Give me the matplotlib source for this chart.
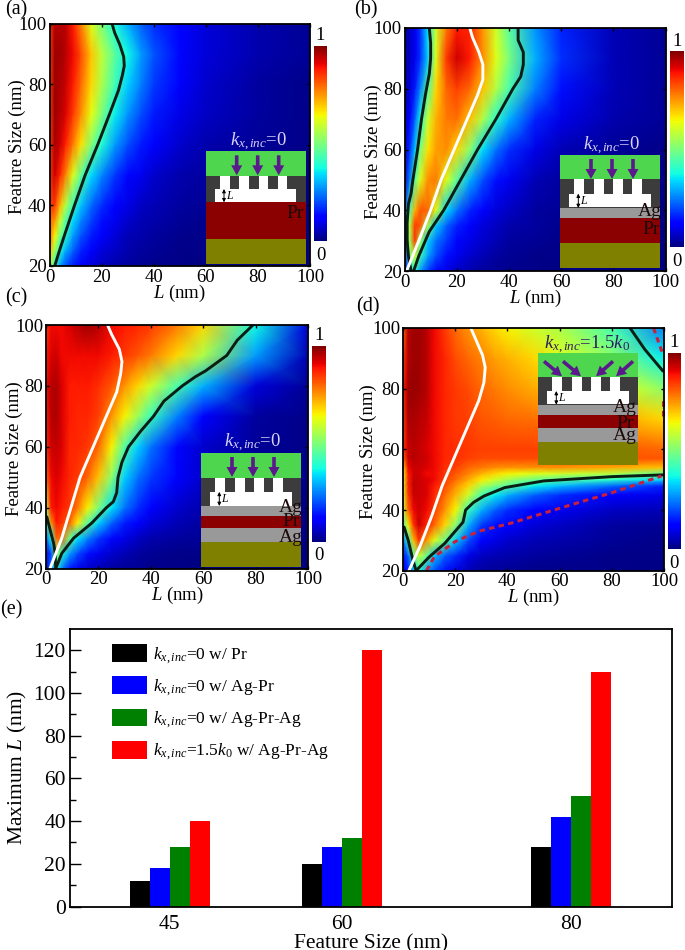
import matplotlib
matplotlib.use("Agg")
import matplotlib.pyplot as plt
import numpy as np
from matplotlib.patches import Rectangle, FancyArrow, Patch

plt.rcParams['font.family'] = ['Liberation Serif', 'DejaVu Serif']
plt.rcParams['mathtext.fontset'] = 'custom'
plt.rcParams['mathtext.rm'] = 'Liberation Serif'
plt.rcParams['mathtext.it'] = 'Liberation Serif:italic'
plt.rcParams['mathtext.bf'] = 'Liberation Serif:bold'

W, H = 685, 950

# L columns shared by all four maps
L_nm = [0, 2, 4, 6, 9, 12, 16, 20, 25, 30, 35, 40, 50, 60, 80, 100]

F_abc = [20, 25, 30, 35, 40, 50, 60, 70, 80, 90, 100]
F_d = [20, 25, 30, 35, 40, 45, 48, 50, 52, 54, 57, 60, 70, 80, 90, 100]

map_a = [
    [.60, .40, .28, .21, .15, .11, .08, .06, .04, .03, .02, .015, .01, 0, 0, 0],
    [.70, .55, .39, .30, .22, .16, .12, .08, .06, .04, .03, .02, .01, .01, 0, 0],
    [.80, .65, .50, .40, .28, .21, .15, .11, .08, .05, .04, .03, .015, .01, 0, 0],
    [.80, .75, .60, .47, .34, .26, .19, .14, .10, .07, .05, .04, .02, .015, .01, 0],
    [.85, .85, .72, .58, .42, .32, .23, .17, .12, .09, .06, .05, .03, .02, .01, 0],
    [.85, .93, .87, .78, .62, .47, .34, .26, .18, .13, .10, .07, .04, .03, .01, .005],
    [.85, .96, .93, .88, .78, .67, .51, .39, .28, .20, .15, .11, .07, .04, .02, .01],
    [.85, .97, .95, .92, .85, .76, .63, .50, .36, .27, .20, .15, .09, .06, .03, .01],
    [.85, .97, .96, .94, .88, .80, .68, .56, .43, .33, .25, .18, .11, .07, .03, .01],
    [.85, .97, .97, .95, .90, .83, .70, .58, .46, .37, .28, .21, .13, .08, .04, .02],
    [.85, .95, .95, .95, .88, .78, .62, .50, .38, .30, .22, .17, .11, .08, .04, .02],
]

map_b = [
    [.10, .33, .40, .28, .18, .13, .09, .06, .04, .03, .02, .015, .01, 0, 0, 0],
    [.15, .50, .60, .42, .28, .20, .14, .10, .07, .05, .03, .02, .01, .01, 0, 0],
    [.20, .55, .85, .55, .33, .24, .18, .13, .09, .07, .05, .03, .02, .01, 0, 0],
    [.30, .58, .85, .82, .55, .33, .22, .16, .11, .08, .06, .04, .03, .015, 0, 0],
    [.20, .45, .72, .82, .80, .62, .34, .24, .16, .11, .08, .06, .03, .02, .01, 0],
    [.07, .25, .46, .62, .76, .78, .62, .46, .30, .20, .14, .10, .05, .03, .01, .01],
    [.06, .17, .32, .50, .67, .74, .76, .68, .52, .34, .24, .17, .09, .05, .02, .01],
    [.05, .12, .22, .37, .60, .72, .78, .79, .70, .56, .40, .30, .16, .09, .04, .02],
    [.03, .08, .15, .25, .45, .68, .80, .84, .80, .70, .57, .44, .25, .14, .05, .02],
    [.03, .06, .10, .17, .33, .62, .85, .93, .88, .76, .62, .50, .30, .17, .05, .02],
    [.03, .06, .10, .17, .35, .60, .78, .88, .87, .75, .60, .46, .27, .16, .05, .02],
]

map_c = [
    [.12, .25, .40, .25, .15, .10, .07, .05, .03, .02, .02, .01, .01, 0, 0, 0],
    [.10, .20, .55, .40, .28, .20, .14, .10, .07, .05, .03, .02, .01, .01, 0, 0],
    [.22, .38, .80, .80, .48, .35, .25, .18, .13, .09, .06, .04, .03, .02, 0, 0],
    [.40, .75, .88, .85, .80, .66, .45, .33, .22, .15, .11, .08, .05, .03, .01, 0],
    [.60, .88, .90, .88, .85, .78, .65, .50, .35, .24, .17, .12, .07, .04, .01, 0],
    [.80, .90, .92, .90, .87, .85, .80, .70, .52, .33, .24, .18, .11, .07, .02, .01],
    [.87, .93, .94, .92, .87, .87, .85, .80, .65, .45, .33, .24, .13, .07, .02, .01],
    [.88, .95, .96, .92, .88, .87, .87, .84, .75, .65, .54, .42, .25, .12, .03, .01],
    [.90, .95, .96, .92, .88, .88, .88, .86, .82, .75, .68, .60, .44, .30, .08, .02],
    [.88, .92, .93, .90, .90, .90, .90, .90, .88, .85, .82, .78, .68, .56, .28, .05],
    [.85, .90, .90, .90, .92, .95, .97, .95, .90, .88, .87, .85, .78, .68, .37, .08],
]

map_d = [
    [.10, .15, .30, .40, .28, .20, .14, .09, .05, .03, .02, .02, .01, .01, .01, .005],
    [.14, .22, .45, .60, .48, .32, .22, .17, .09, .06, .05, .04, .03, .02, .01, .01],
    [.24, .42, .70, .85, .75, .62, .48, .33, .20, .12, .09, .07, .05, .04, .02, .01],
    [.42, .65, .85, .93, .87, .80, .68, .52, .30, .18, .14, .12, .08, .06, .03, .02],
    [.60, .80, .90, .93, .90, .85, .75, .65, .42, .30, .22, .17, .12, .10, .06, .05],
    [.62, .85, .93, .93, .92, .87, .80, .72, .60, .44, .36, .30, .22, .17, .12, .09],
    [.62, .87, .94, .93, .92, .88, .83, .76, .68, .56, .50, .46, .36, .31, .23, .16],
    [.62, .87, .94, .93, .92, .90, .84, .80, .73, .66, .60, .55, .48, .45, .40, .33],
    [.64, .88, .93, .93, .90, .90, .85, .82, .77, .72, .68, .65, .62, .60, .57, .47],
    [.68, .90, .93, .93, .92, .90, .86, .84, .80, .78, .76, .75, .75, .75, .73, .70],
    [.80, .93, .95, .94, .93, .90, .87, .86, .84, .83, .83, .83, .83, .83, .82, .82],
    [.85, .93, .95, .94, .92, .90, .87, .86, .85, .84, .84, .84, .84, .83, .82, .80],
    [.85, .96, .96, .95, .94, .90, .87, .85, .84, .82, .81, .80, .79, .78, .74, .68],
    [.88, .97, .98, .97, .95, .90, .87, .85, .83, .80, .78, .76, .73, .70, .64, .52],
    [.85, .95, .97, .97, .95, .90, .87, .83, .80, .77, .74, .72, .68, .62, .52, .36],
    [.80, .95, .97, .97, .95, .90, .85, .80, .75, .72, .68, .65, .60, .56, .44, .25],
]

# traced contours, (L, feature size)
curve_a_L = [24, 25, 27, 28.5, 28.7, 28, 26.5, 23, 18.5, 13.7, 9.6, 5.7, 3.8, 2]
curve_a_F = [100, 97, 93, 89, 86, 83, 78, 70, 60, 50, 40, 30, 25, 20]

b_left_L = [9.5, 10, 10, 9.5, 8, 6.5, 5, 3.2, 2.5, 1.5, 1, 1, 1.5, 2.5]
b_left_F = [100, 95, 90, 85, 78, 70, 60, 50, 45.5, 42, 36, 30, 25, 20]
b_right_L = [43.5, 43.5, 45.5, 45.5, 44.5, 41.5, 35, 28, 21.5, 15, 9.5, 5.5, 3.5]
b_right_F = [100, 96, 92, 88, 84, 80, 70, 60, 50, 40, 33, 25, 20]
b_white_L = [25, 26, 28.5, 30, 30, 28, 24, 19, 14, 10, 5.5, 0.8]
b_white_F = [100, 97, 92, 88, 83, 78, 70, 60, 50, 40, 30, 20]

c_right_L = [79, 73, 69, 61, 57, 52, 45, 41, 36, 31.5, 29, 27.5, 27, 25.7, 23, 17.5, 10.5, 6, 3.7]
c_right_F = [100, 95, 90, 85, 83, 80, 75, 70, 65, 60, 55, 50, 45, 42, 40, 35, 30, 25, 20]
c_left_L = [0.3, 1.5, 3, 3.5, 3.7]
c_left_F = [37, 33, 28, 25, 20]
c_white_L = [23.5, 25, 28, 29, 28.5, 27, 23, 18, 13, 9.5, 6, 1.5]
c_white_F = [100, 97, 92, 88, 84, 78, 70, 60, 50, 40, 30, 20]

d_low_L = [5, 10, 16, 21, 23, 24, 27, 31, 39, 54, 80, 100]
d_low_F = [20, 24.5, 29, 34, 36, 40, 42.5, 44.6, 47.4, 49.6, 51, 51.6]
d_left_L = [0.4, 2, 3.8, 5]
d_left_F = [34.4, 30, 23.5, 20]
d_top_L = [87, 92.6, 99.6]
d_top_F = [100, 93, 85.8]
d_white_L = [26, 28, 30.5, 31.5, 31, 29, 25, 20, 15, 11, 6.5, 2]
d_white_F = [100, 96, 91, 87, 82, 76, 68, 58, 48, 38, 28, 19.5]
d_dash_L = [9, 12, 20, 29, 41.5, 54, 67, 80, 99]
d_dash_F = [20, 24.6, 29.6, 33, 35.7, 39, 42.4, 45.7, 51.2]
d_dash2_L = [96, 99.7]
d_dash2_F = [100, 91]
d_dash3_L = [99.8, 99.8]
d_dash3_F = [71, 77]

# bar panel
sizes = [45, 60, 80]
bar_pr = [12, 20, 28]
bar_ag_pr = [18, 28, 42]
bar_ag_pr_ag = [28, 32, 52]
bar_tilted = [40, 120, 110]
bar_labels = [r"$k_{x,inc}$=0 w/ Pr", r"$k_{x,inc}$=0 w/ Ag-Pr", r"$k_{x,inc}$=0 w/ Ag-Pr-Ag",
              r"$k_{x,inc}$=1.5$k_0$ w/ Ag-Pr-Ag"]
bar_colors = ["black", "#0000ff", "#008000", "#ff0000"]

GREEN = "#4fd64f"
DARK = "#3c3c3c"
RED = "#8b0000"
GREY = "#999999"
OLIVE = "#808000"
PURPLE = "#5a1a8c"

fig = plt.figure(figsize=(W / 100, H / 100), dpi=100)


def px_axes(left, top, right, bottom):
    return fig.add_axes([left / W, 1 - bottom / H, (right - left) / W, (bottom - top) / H])


def heat(box, cbox, F, Z, ylabel_x, xlabel_y):
    ax = px_axes(*box)
    m = ax.pcolormesh(L_nm, F, np.array(Z), cmap="jet", vmin=0, vmax=1, shading="gouraud")
    ax.set_xlim(0, 100)
    ax.set_ylim(20, 100)
    ax.set_xticks(range(0, 101, 20))
    ax.set_yticks(range(20, 101, 20))
    ax.tick_params(direction="in", top=True, right=True, length=2.5, width=1, labelsize=13.5, pad=2)
    for s in ax.spines.values():
        s.set_linewidth(1.3)
    fig.text(ylabel_x / W, 1 - (box[1] + box[3]) / 2 / H - 2 / H, "Feature Size (nm)", rotation=90,
             ha="center", va="center", fontsize=13.5)
    fig.text((box[0] + box[2]) / 2 / W, 1 - xlabel_y / H, r"$L$ (nm)", ha="center", va="center", fontsize=13.5)
    cax = px_axes(*cbox)
    cb = fig.colorbar(m, cax=cax, ticks=[])
    cb.outline.set_visible(False)
    cx = (cbox[0] + cbox[2]) / 2
    fig.text(cx / W, 1 - (cbox[1] - 10) / H, "1", ha="center", va="center", fontsize=13.5)
    fig.text(cx / W, 1 - (cbox[3] + 14) / H, "0", ha="center", va="center", fontsize=13.5)
    return ax


def line(ax, x, y, color="#0a1f14", **kw):
    ax.plot(x, y, color=color, lw=2.1, solid_joinstyle="round", solid_capstyle="round", **kw)


ax_a = heat((49.5, 23.5, 310, 266), (314, 46, 327, 241), F_abc, map_a, 17, 293)
line(ax_a, curve_a_L, curve_a_F)

ax_b = heat((404.5, 28, 665.7, 271), (670, 51, 684, 247), F_abc, map_b, 373, 298)
line(ax_b, b_left_L, b_left_F)
line(ax_b, b_right_L, b_right_F)
line(ax_b, b_white_L, b_white_F, color="white")

ax_c = heat((46, 325, 308, 568.7), (312, 346, 326, 542), F_abc, map_c, 14, 595)
line(ax_c, c_right_L, c_right_F)
line(ax_c, c_left_L, c_left_F)
line(ax_c, c_white_L, c_white_F, color="white")

ax_d = heat((403, 328, 664, 570.7), (667.7, 353, 681, 549), F_d, map_d, 368, 597)
line(ax_d, d_low_L, d_low_F)
line(ax_d, d_left_L, d_left_F)
line(ax_d, d_top_L, d_top_F)
line(ax_d, d_white_L, d_white_F, color="white")
for dx, dy in [(d_dash_L, d_dash_F), (d_dash2_L, d_dash2_F), (d_dash3_L, d_dash3_F)]:
    ax_d.plot(dx, dy, color="#c8203c", lw=2.2, dashes=(1.8, 1.4), clip_on=False)

# bars
ax_e = px_axes(70, 629, 672, 906.5)
bar_w = 1.75
for i, (vals, c, lab) in enumerate(zip([bar_pr, bar_ag_pr, bar_ag_pr_ag, bar_tilted], bar_colors, bar_labels)):
    ax_e.bar(np.array(sizes) + (i - 1.5) * bar_w, vals, bar_w, color=c, label=lab)
ax_e.set_xlim(36.3, 88.8)
ax_e.set_ylim(0, 130)
ax_e.set_xticks(sizes)
ax_e.set_yticks(range(0, 121, 20))
ax_e.set_yticks(range(10, 121, 20), minor=True)
ax_e.tick_params(axis="y", which="major", direction="in", length=8, width=1, labelsize=15.5, pad=3)
ax_e.tick_params(axis="y", which="minor", direction="in", length=4, width=1)
ax_e.tick_params(axis="x", length=0, labelsize=15.5, pad=6)
for s in ax_e.spines.values():
    s.set_linewidth(1.3)
ax_e.set_xlabel("Feature Size (nm)", fontsize=15.5, labelpad=0)
ax_e.set_ylabel(r"Maximum $L$ (nm)", fontsize=15.5, labelpad=3)
ax_e.legend(loc="upper left", bbox_to_anchor=(0.07, 0.945), frameon=False, fontsize=12.5, handlelength=2.0,
            handleheight=1.2, handletextpad=0.35, labelspacing=0.62, borderpad=0, borderaxespad=0)

# schematics and letters go on a pixel overlay
ov = fig.add_axes([0, 0, 1, 1], facecolor="none")
ov.set_xlim(0, W)
ov.set_ylim(H, 0)
ov.axis("off")

for txt, x, y in [("(a)", 16, 10), ("(b)", 366, 10), ("(c)", 16, 298), ("(d)", 368, 307), ("(e)", 11, 610)]:
    ov.text(x, y, txt, ha="center", va="center", fontsize=14.5)


def band(x0, x1, y0, y1, c):
    ov.add_patch(Rectangle((x0, y0), x1 - x0, y1 - y0, fc=c, ec="none"))


def inset(x0, edges, colors, tags, title, title_x, title_y, title_c, tilted=False):
    x1 = x0 + 100.5
    # green, then the mask, then the stack
    band(x0, x1, edges[0], edges[1], GREEN)
    band(x0, x1, edges[1], edges[2], DARK)
    mid = (edges[1] + edges[2]) / 2
    band(x0 + 14.3, x0 + 81.7, edges[1], mid + 0.5, "white")
    band(x0 + 9.3, x0 + 90.7, mid, edges[2] - 0.5, "white")
    for p0, p1 in [(24.3, 33.7), (43.7, 53), (62.7, 72)]:
        band(x0 + p0, x0 + p1, edges[1], mid, DARK)
    for i, c in enumerate(colors):
        band(x0, x1, edges[i + 2], edges[i + 3], c)
    if tilted:
        starts = [(6, 8, 18, 15), (25, 8, 18, 15), (75, 8, -17, 15), (95, 8, -17, 15)]
    else:
        starts = [(31, 4, 0, 20), (52, 4, 0, 20), (73, 4, 0, 20)]
    for sx, sy, dx, dy in starts:
        ov.add_patch(FancyArrow(x0 + sx, edges[0] + sy, dx, dy, width=3.6, head_width=11, head_length=10,
                                length_includes_head=True, color=PURPLE, lw=0))
    ov.annotate("", xy=(x0 + 18.3, mid), xytext=(x0 + 18.3, edges[2]),
                arrowprops=dict(arrowstyle="<|-|>", color="black", lw=0.7, mutation_scale=5, shrinkA=0, shrinkB=0))
    ov.text(x0 + 24, (mid + edges[2]) / 2, r"$L$", fontsize=8.5, ha="center", va="center")
    for tag, tx, ty in tags:
        ov.text(tx, ty, tag, fontsize=14, ha="center", va="center", color="#1c0a0a")
    ov.text(title_x, title_y, title, fontsize=13.5, ha="center", va="center", color=title_c)


LIGHT = "#d8d2f8"
inset(205.7, [151.3, 175.7, 202.3, 239.3, 264], [RED, OLIVE], [("Pr", 295, 213)],
      r"$k_{x,inc}$=0", 259, 142, LIGHT)
inset(560, [155, 179.3, 208, 218, 243.3, 267.7], [GREY, RED, OLIVE], [("Ag", 650, 212), ("Pr", 651, 230)],
      r"$k_{x,inc}$=0", 612, 146, LIGHT)
inset(201, [453, 477.7, 506, 516, 528, 541.7, 566.7], [GREY, RED, GREY, OLIVE],
      [("Ag", 291, 508), ("Pr", 291, 522), ("Ag", 291, 537)], r"$k_{x,inc}$=0", 253, 443, LIGHT)
inset(538, [353.3, 377.3, 404.7, 415, 427.7, 441.7, 464.7], [GREY, RED, GREY, OLIVE],
      [("Ag", 625, 408), ("Pr", 625, 423), ("Ag", 625, 436)], r"$k_{x,inc}$=1.5$k_0$", 587, 345, "#2c2060", tilted=True)

fig.savefig("out.png", dpi=100)
